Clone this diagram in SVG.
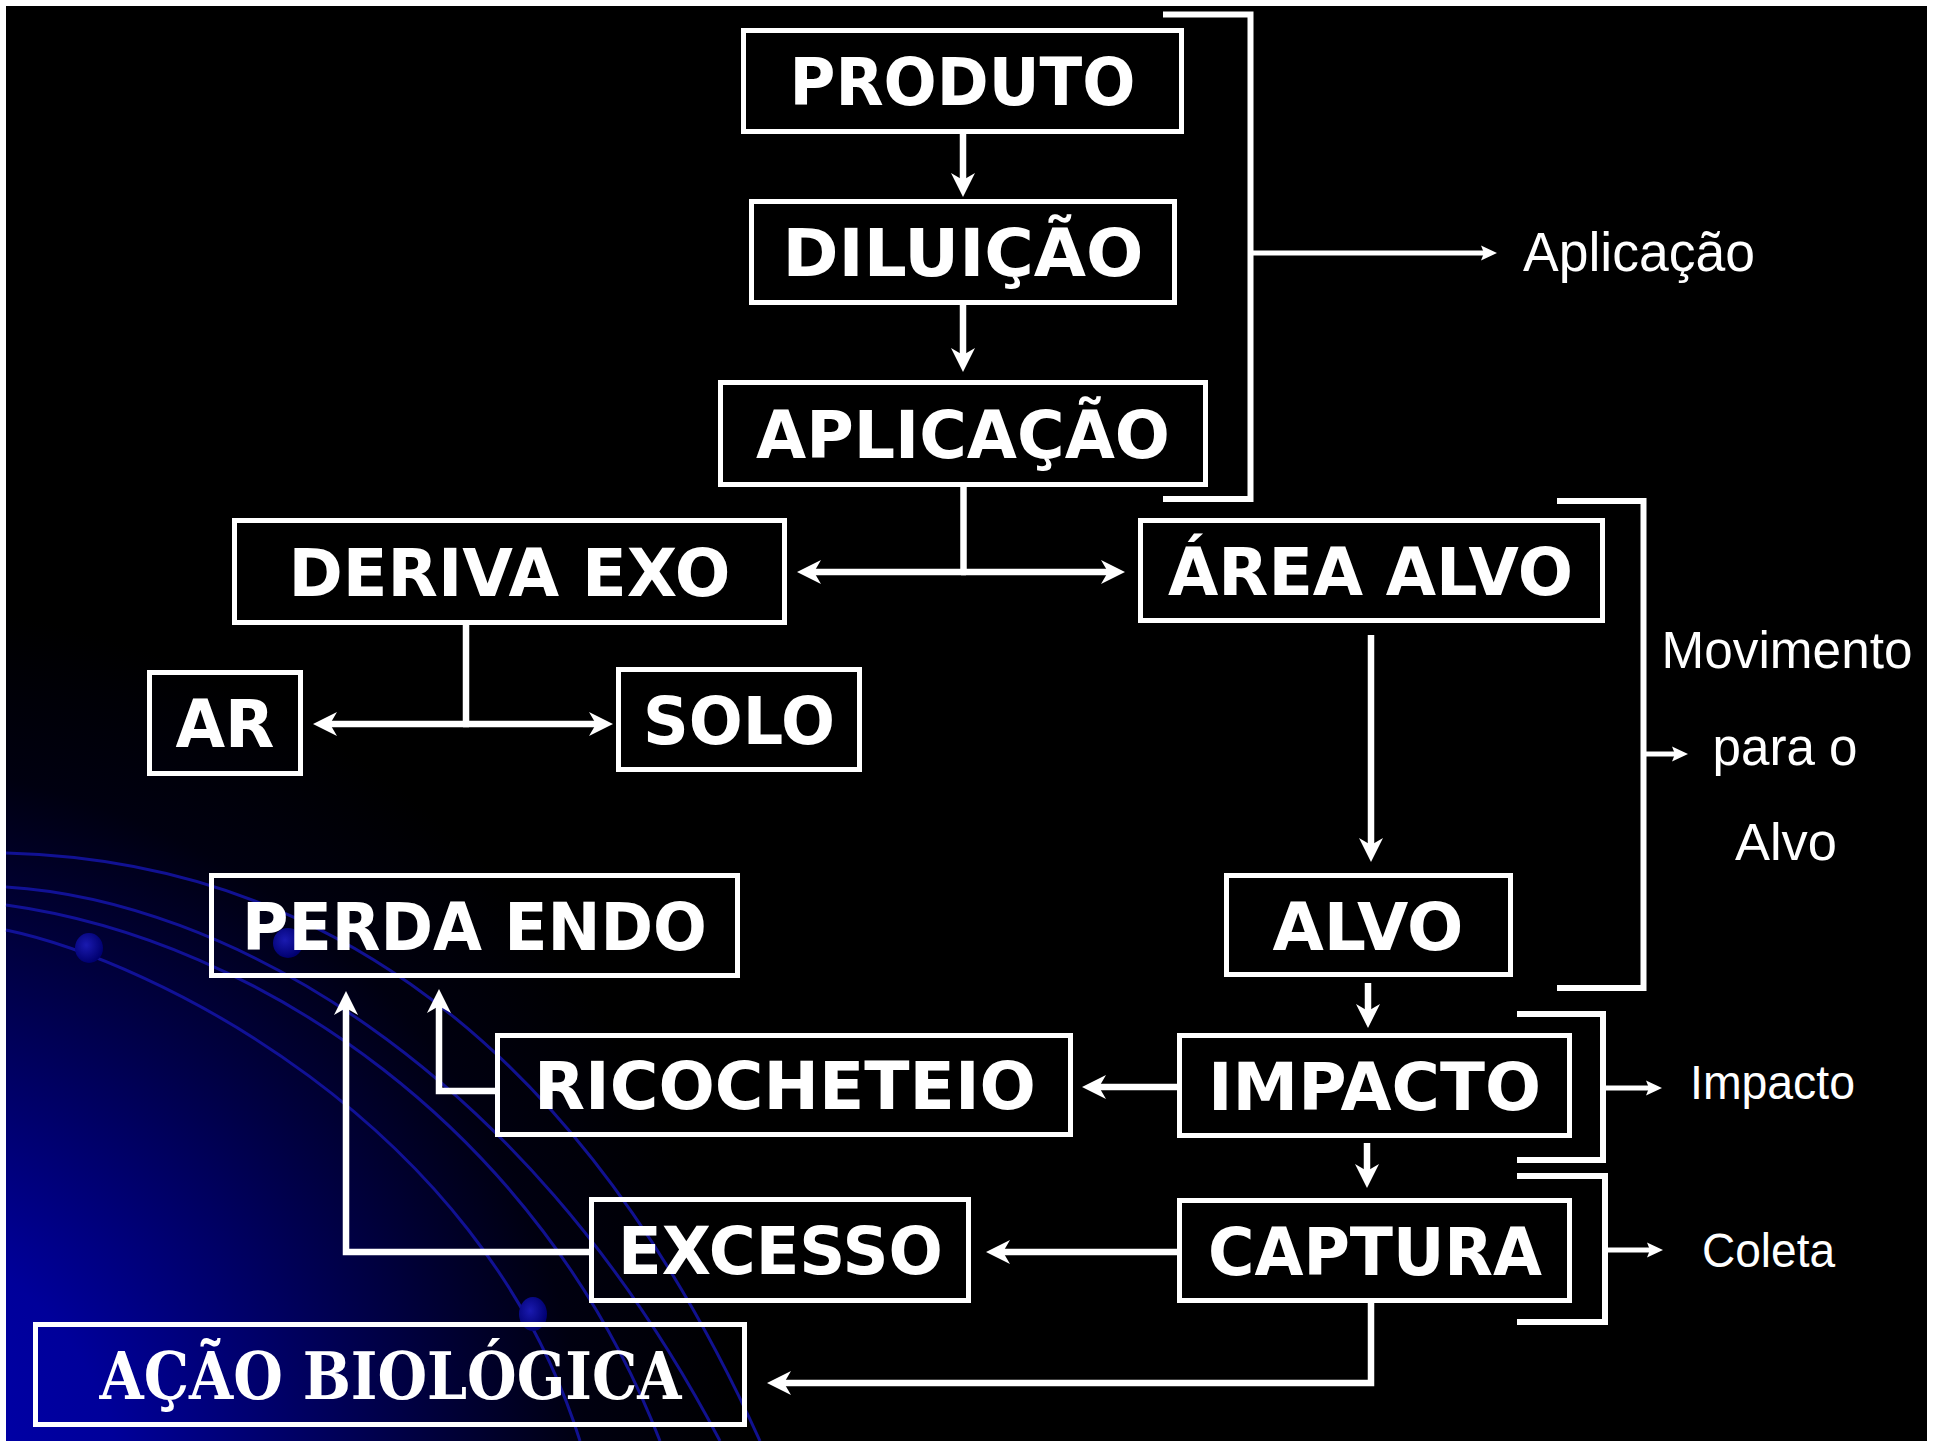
<svg xmlns="http://www.w3.org/2000/svg" width="1938" height="1441" viewBox="0 0 1938 1441">
<defs>
<radialGradient id="glow" gradientUnits="userSpaceOnUse" cx="-150" cy="1500" r="900">
<stop offset="0" stop-color="#0000b4"/>
<stop offset="0.3" stop-color="#00009a"/>
<stop offset="0.6" stop-color="#00004a"/>
<stop offset="0.82" stop-color="#000010"/>
<stop offset="1" stop-color="#000000"/>
</radialGradient>
<radialGradient id="dotg" cx="0.4" cy="0.4" r="0.6">
<stop offset="0" stop-color="#1a1ab0"/>
<stop offset="1" stop-color="#000070"/>
</radialGradient>
<marker id="ah" markerUnits="userSpaceOnUse" markerWidth="24" markerHeight="24" viewBox="0 0 24 24" refX="9" refY="12" orient="auto">
<path d="M0,0 L24,12 L0,24 L7,12 Z" fill="#ffffff"/>
</marker>
<marker id="sh" markerUnits="userSpaceOnUse" markerWidth="16" markerHeight="16" viewBox="0 0 16 16" refX="4" refY="8" orient="auto">
<path d="M0,0.5 L16,8 L0,15.5 L3,8 Z" fill="#ffffff"/>
</marker>
</defs>
<style>
.box{fill:none;stroke:#ffffff;stroke-width:5}
.lbl{font-family:"DejaVu Sans",Verdana,sans-serif;font-weight:bold;font-size:66px;fill:#ffffff;text-anchor:middle}
.deco{font-family:"DejaVu Serif","Liberation Serif",serif;font-weight:bold;font-size:66px;fill:#ffffff;text-anchor:middle}
.side{font-family:"Liberation Sans",Arial,sans-serif;fill:#ffffff}
.con{fill:none;stroke:#ffffff;stroke-width:6.5;stroke-linejoin:miter}
.arr{marker-end:url(#ah)}
.brk{fill:none;stroke:#ffffff;stroke-width:6;stroke-linejoin:miter}
.sarr{fill:none;stroke:#ffffff;stroke-width:5;marker-end:url(#sh)}
.orbit{fill:none;stroke:#1414a8;stroke-width:3;opacity:0.85}
</style>
<rect x="0" y="0" width="1938" height="1441" fill="#ffffff"/>
<rect x="6" y="6" width="1921" height="1435" fill="#000000"/>
<rect x="6" y="6" width="1921" height="1435" fill="url(#glow)"/>
<g id="background-orbits">
<path class="orbit" d="M6,853 C280,860 560,1000 760,1441"/>
<path class="orbit" d="M6,887 C220,900 520,1060 720,1441"/>
<path class="orbit" d="M6,905 C260,940 540,1130 660,1441"/>
<path class="orbit" d="M6,930 C150,960 480,1120 580,1441"/>
<ellipse cx="89" cy="948" rx="14" ry="15" fill="url(#dotg)"/>
<ellipse cx="288" cy="943" rx="15" ry="15" fill="url(#dotg)"/>
<ellipse cx="533" cy="1314" rx="14" ry="17" fill="url(#dotg)"/>
</g>
<g id="connectors">
<path class="con arr" d="M963,134 V182"/>
<path class="con arr" d="M963,305 V357"/>
<path class="con" d="M963.5,487 V572"/>
<path class="con arr" d="M966,572 H812"/>
<path class="con arr" d="M961,572 H1110"/>
<path class="con" d="M466,625 V724"/>
<path class="con arr" d="M469,724 H328"/>
<path class="con arr" d="M463,724 H598"/>
<path class="con arr" d="M1371,635 V847"/>
<path class="con arr" d="M1368,983 V1013"/>
<path class="con arr" d="M1367,1143 V1173"/>
<path class="con arr" d="M1177,1087 H1097"/>
<path class="con arr" d="M1177,1252 H1001"/>
<path class="con arr" d="M497,1091 H439 V1004"/>
<path class="con arr" d="M591,1252 H346 V1006"/>
<path class="con arr" d="M1371,1303 V1383 H782"/>
<path class="brk" d="M1163,14.5 H1250.5 V499 H1163"/>
<path class="brk" d="M1557,501 H1643.5 V988 H1557"/>
<path class="brk" d="M1517,1014 H1603 V1160 H1517"/>
<path class="brk" d="M1517,1176 H1605 V1322 H1517"/>
<path class="sarr" d="M1250.5,253 H1485"/>
<path class="sarr" d="M1643.5,754 H1676"/>
<path class="sarr" d="M1603,1088 H1650"/>
<path class="sarr" d="M1605,1250 H1651"/>
</g>
<g id="produto"><rect class="box" x="743.5" y="30.5" width="438" height="101"/><text class="lbl" x="962.5" y="105" textLength="346" lengthAdjust="spacingAndGlyphs">PRODUTO</text></g>
<g id="diluicao"><rect class="box" x="751.5" y="201.5" width="423" height="101"/><text class="lbl" x="963" y="276" textLength="361" lengthAdjust="spacingAndGlyphs">DILUIÇÃO</text></g>
<g id="aplicacao"><rect class="box" x="720.5" y="382.5" width="485" height="102"/><text class="lbl" x="963" y="457.5" textLength="414" lengthAdjust="spacingAndGlyphs">APLICAÇÃO</text></g>
<g id="deriva-exo"><rect class="box" x="234.5" y="520.5" width="550" height="102"/><text class="lbl" x="509.5" y="595.5" textLength="442" lengthAdjust="spacingAndGlyphs">DERIVA EXO</text></g>
<g id="area-alvo"><rect class="box" x="1140.5" y="520.5" width="462" height="100"/><text class="lbl" x="1370.5" y="594.5" textLength="405" lengthAdjust="spacingAndGlyphs">ÁREA ALVO</text></g>
<g id="ar"><rect class="box" x="149.5" y="672.5" width="151" height="101"/><text class="lbl" x="225" y="747" textLength="99" lengthAdjust="spacingAndGlyphs">AR</text></g>
<g id="solo"><rect class="box" x="618.5" y="669.5" width="241" height="100"/><text class="lbl" x="739" y="743.5" textLength="192" lengthAdjust="spacingAndGlyphs">SOLO</text></g>
<g id="perda-endo"><rect class="box" x="211.5" y="875.5" width="526" height="100"/><text class="lbl" x="474.5" y="949.5" textLength="465" lengthAdjust="spacingAndGlyphs">PERDA ENDO</text></g>
<g id="alvo"><rect class="box" x="1226.5" y="875.5" width="284" height="99"/><text class="lbl" x="1368" y="949.5" textLength="191" lengthAdjust="spacingAndGlyphs">ALVO</text></g>
<g id="ricocheteio"><rect class="box" x="497.5" y="1035.5" width="573" height="99"/><text class="lbl" x="785" y="1109" textLength="502" lengthAdjust="spacingAndGlyphs">RICOCHETEIO</text></g>
<g id="impacto"><rect class="box" x="1179.5" y="1035.5" width="390" height="100"/><text class="lbl" x="1374.5" y="1109.5" textLength="333" lengthAdjust="spacingAndGlyphs">IMPACTO</text></g>
<g id="excesso"><rect class="box" x="591.5" y="1199.5" width="377" height="101"/><text class="lbl" x="780.5" y="1274" textLength="325" lengthAdjust="spacingAndGlyphs">EXCESSO</text></g>
<g id="captura"><rect class="box" x="1179.5" y="1200.5" width="390" height="100"/><text class="lbl" x="1375" y="1274.5" textLength="334" lengthAdjust="spacingAndGlyphs">CAPTURA</text></g>
<g id="acao-biologica"><rect class="box" x="35.5" y="1324.5" width="709" height="100"/><text class="deco" x="390.5" y="1399" textLength="582" lengthAdjust="spacingAndGlyphs">AÇÃO BIOLÓGICA</text></g>
<g id="label-aplicacao"><text class="side" x="1523" y="271" font-size="56" textLength="232" lengthAdjust="spacingAndGlyphs">Aplicação</text></g>
<g id="label-movimento">
<text class="side" x="1787" y="668" font-size="51" text-anchor="middle" textLength="251" lengthAdjust="spacingAndGlyphs">Movimento</text>
<text class="side" x="1785" y="765" font-size="51" text-anchor="middle" textLength="145" lengthAdjust="spacingAndGlyphs">para o</text>
<text class="side" x="1786" y="860" font-size="51" text-anchor="middle" textLength="102" lengthAdjust="spacingAndGlyphs">Alvo</text>
</g>
<g id="label-impacto"><text class="side" x="1690" y="1099" font-size="48" textLength="165" lengthAdjust="spacingAndGlyphs">Impacto</text></g>
<g id="label-coleta"><text class="side" x="1702" y="1267" font-size="48" textLength="133" lengthAdjust="spacingAndGlyphs">Coleta</text></g>
</svg>
